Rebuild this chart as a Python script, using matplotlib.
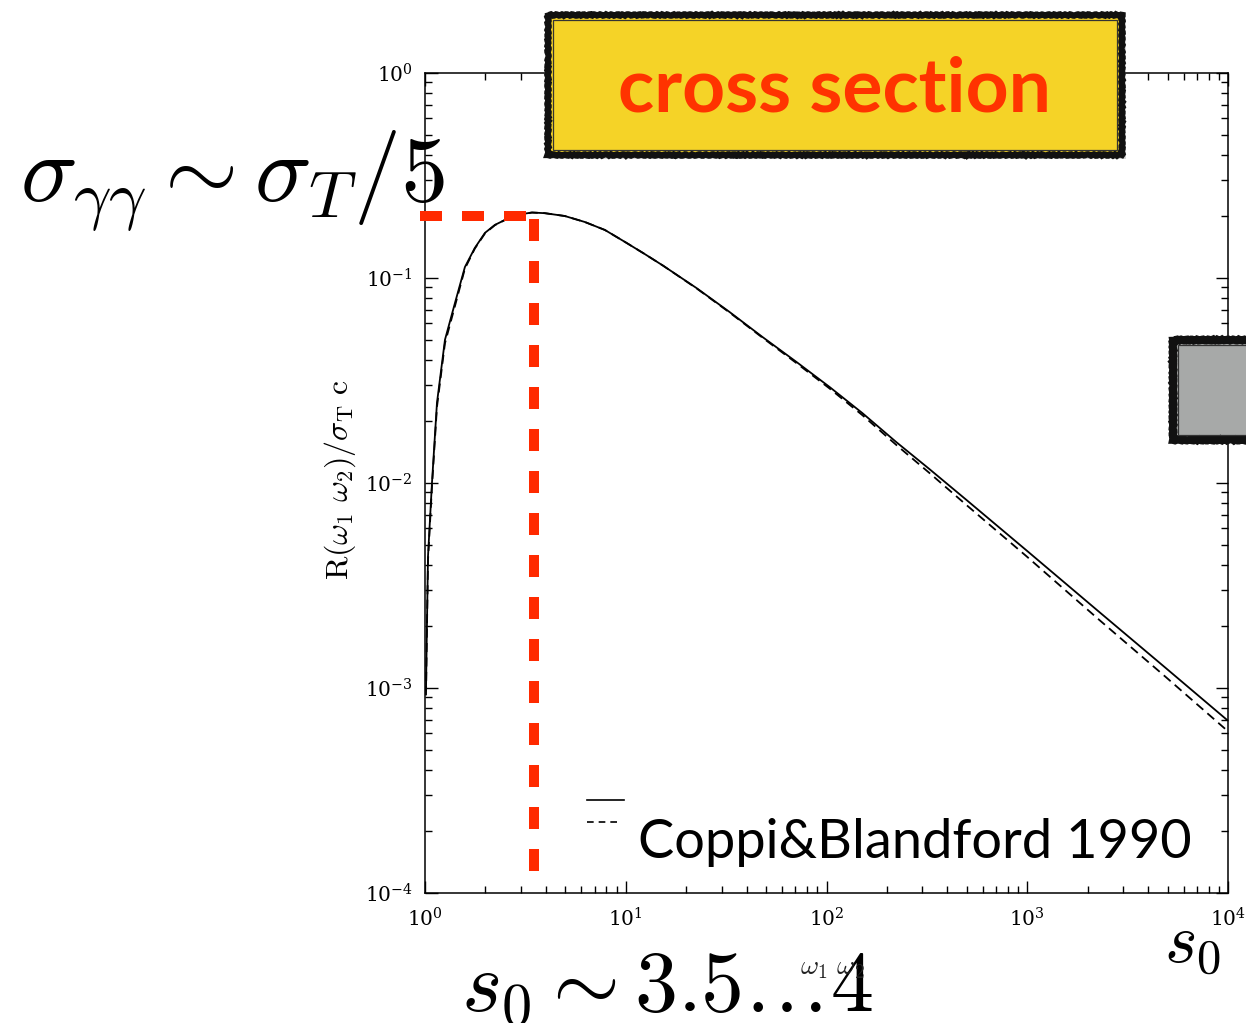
import matplotlib
matplotlib.use("Agg")
import matplotlib.pyplot as plt
from matplotlib.patches import Rectangle
from matplotlib.lines import Line2D
from matplotlib.ticker import LogLocator, LogFormatterMathtext, NullFormatter

plt.rcParams["mathtext.fontset"] = "cm"
plt.rcParams["font.family"] = ["DejaVu Serif"]

# pair-production rate R(w1 w2)/(sigma_T c) against s0
s0 = [1.0115, 1.023, 1.035, 1.083, 1.147, 1.257, 1.41, 1.58, 1.77, 1.99,
      2.23, 2.56, 2.90, 3.41, 3.95, 4.97, 6.25, 7.87, 9.89, 12.4, 15.3,
      22.5, 32.9, 48.0, 70.9, 103.5, 151, 223, 325, 498, 988, 2280, 4900,
      9890]
rate_exact = [0.00098, 0.0021, 0.0044, 0.010, 0.0246, 0.0499, 0.0755, 0.113,
              0.140, 0.166, 0.1815, 0.194, 0.2035, 0.2085, 0.207, 0.2005,
              0.1875, 0.1714, 0.150, 0.131, 0.115, 0.0893, 0.0682, 0.0515,
              0.0389, 0.0294, 0.0219, 0.0158, 0.0117, 0.00826, 0.0047,
              0.00235, 0.00125, 0.000698]
rate_approx = [0.00092, 0.0020, 0.0042, 0.0096, 0.0235, 0.048, 0.073, 0.111,
               0.139, 0.165, 0.181, 0.194, 0.2035, 0.2085, 0.207, 0.2005,
               0.1875, 0.1714, 0.150, 0.131, 0.115, 0.0890, 0.0678, 0.0511,
               0.0384, 0.0289, 0.0214, 0.0153, 0.0112, 0.0078, 0.0044,
               0.00215, 0.00113, 0.00062]

peak_s0 = 3.5     # position of the maximum
peak_rate = 0.2   # sigma_T / 5

fig = plt.figure(figsize=(12.46, 10.23), dpi=100)
ax = fig.add_axes([0.3411, 0.1271, 0.6445, 0.8016])

ax.plot(s0, rate_exact, color="black", lw=1.3, zorder=3)
ax.plot(s0, rate_approx, color="black", lw=1.3, ls=(0, (5, 3)), zorder=3)

ax.set_xscale("log")
ax.set_yscale("log")
ax.set_xlim(1, 1e4)
ax.set_ylim(1e-4, 1)

for axis in (ax.xaxis, ax.yaxis):
    axis.set_major_locator(LogLocator(base=10, numticks=10))
    axis.set_minor_locator(LogLocator(base=10, subs=range(2, 10), numticks=20))
    axis.set_major_formatter(LogFormatterMathtext())
    axis.set_minor_formatter(NullFormatter())

ax.tick_params(which="both", direction="in", top=True, right=True,
               width=1.0, labelsize=14.5, colors="black")
ax.tick_params(which="major", length=9)
ax.tick_params(which="minor", length=5)
ax.tick_params(axis="y", pad=9)
ax.tick_params(axis="x", pad=10)
for sp in ax.spines.values():
    sp.set_linewidth(1.1)

ax.set_ylabel(r"$\mathrm{R}(\omega_1\ \omega_2)/\sigma_\mathrm{T}\ \mathrm{c}$",
              fontsize=23)
ax.yaxis.set_label_coords(-0.083, 0.504)

# red guide lines to the maximum
ax.plot([0.944, peak_s0], [peak_rate, peak_rate], color="#ff2a00", lw=7.2,
        ls=(0, (2.2, 2.0)), dash_capstyle="butt", clip_on=False, zorder=5)
ax.plot([peak_s0, peak_s0], [peak_rate * 0.97, 1.05e-4], color="#ff2a00",
        lw=7.2, ls=(0, (2.2, 2.0)), dash_capstyle="butt", clip_on=False,
        zorder=5)

# legend keys from the original figure
ax.add_line(Line2D([0.2017, 0.2478], [0.1134, 0.1134], transform=ax.transAxes,
                   color="black", lw=1.2))
ax.add_line(Line2D([0.2017, 0.2403], [0.0866, 0.0866], transform=ax.transAxes,
                   color="black", lw=1.2, ls=(0, (4, 3))))
fig.text(0.512, 0.161, "Coppi&Blandford 1990", fontsize=39,
         family=["Lato", "DejaVu Sans"], color="black", va="baseline")


def brush_box(x, y, w, h, face, lw):
    """Box with a soft shadow, heavy outline and a thin inner rule."""
    sh = Rectangle((x + 0.003, y - 0.004), w, h, transform=fig.transFigure,
                   facecolor="#777777", edgecolor="none", alpha=0.3, zorder=2)
    fig.add_artist(sh)
    box = Rectangle((x, y), w, h, transform=fig.transFigure, facecolor=face,
                    edgecolor="#111111", lw=lw, zorder=3)
    box.set_sketch_params(scale=0.7, length=6, randomness=2)
    fig.add_artist(box)
    inner = Rectangle((x + 0.004, y + 0.005), w - 0.008, h - 0.010,
                      transform=fig.transFigure, facecolor="none",
                      edgecolor="#333333", lw=0.9, zorder=3)
    fig.add_artist(inner)


# yellow title box
brush_box(0.4398, 0.8485, 0.4607, 0.1369, "#f5d327", 4.5)
fig.text(0.670, 0.912, "cross section", fontsize=54, fontweight="bold",
         family=["Lato", "DejaVu Sans"], color="#ff3300", ha="center",
         va="center", zorder=4)

# grey box at the right edge
brush_box(0.9414, 0.5699, 0.08, 0.0978, "#a7a9a8", 5.5)

# large annotations
fig.text(0.016, 0.804, r"$\sigma_{\gamma\gamma}\sim\sigma_T/5$", fontsize=68,
         va="baseline", ha="left", zorder=6)
fig.text(0.370, 0.011, r"$s_0\sim 3.5\ldots 4$", fontsize=62,
         va="baseline", ha="left", zorder=6)
fig.text(0.934, 0.060, r"$s_0$", fontsize=50, va="baseline", ha="left",
         zorder=6)
fig.text(0.6685, 0.054, r"$\omega_1\ \omega_2$", fontsize=20, color="#222222",
         ha="center", va="center", zorder=7)

fig.savefig("out.png", dpi=100)
